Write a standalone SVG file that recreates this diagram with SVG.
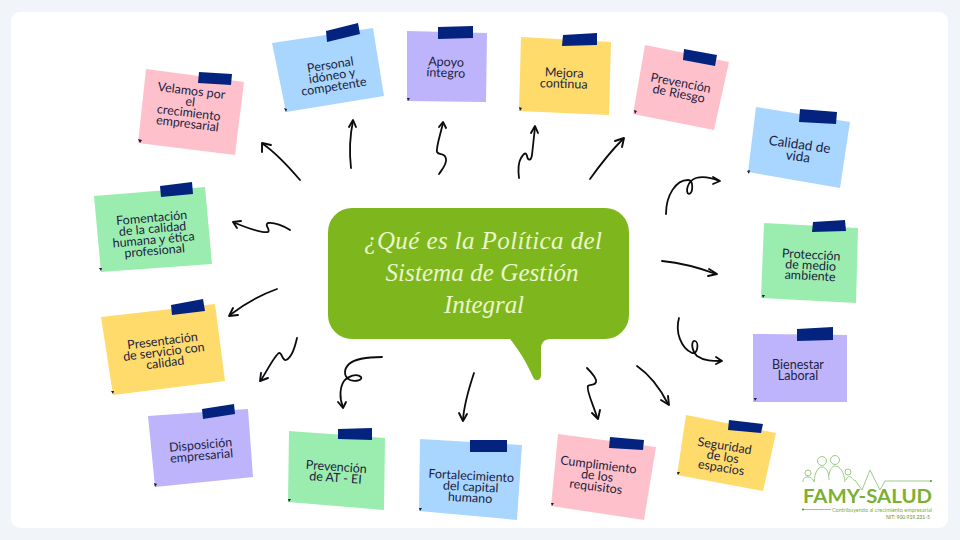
<svg xmlns="http://www.w3.org/2000/svg" width="960" height="540" viewBox="0 0 960 540">
<style>
.t{font-family:"Lato","Noto Sans",sans-serif;font-size:12.5px;fill:#1d2340;text-anchor:middle}
.tape{fill:#04237f}
.pink{fill:#fec1cc}.blue{fill:#a9d6fe}.purple{fill:#bdb4fb}.yellow{fill:#fedb6b}.green{fill:#9bedaf}
.c{fill:#15193a}
.a{fill:none;stroke:#0c0c10;stroke-width:1.8;stroke-linecap:round;stroke-linejoin:round}
.h{fill:none;stroke:#0c0c10;stroke-width:1.9;stroke-linecap:round;stroke-linejoin:round}
.title{font-family:"Liberation Serif",serif;font-style:italic;font-size:25px;fill:#eaf6cd;text-anchor:middle}
.lg{fill:none;stroke:#9ccb86;stroke-width:1}
</style>
<rect width="960" height="540" fill="#f1f4f8"/>
<rect x="11" y="12" width="937" height="516" rx="9" fill="#fff"/>

<g id="connectors">
<path class="a" d="M300 180C288 166 276 153 263 144"/><path class="h" d="M262 152L262 143L271 145"/>
<path class="a" d="M351 168C349 150 350 135 353 121"/><path class="h" d="M349 127L353 120L356 127"/>
<path class="a" d="M439 174C443 168 447 164 446 159C445 152 439 156 437 152C436 147 440 136 443 123"/><path class="h" d="M439 127L443 122L446 128"/>
<path class="a" d="M519 178C518 170 518 163 521 158C524 153 526 152 527 156C528 161 531 161 532 155C533 146 534 136 535 128"/><path class="h" d="M531 133L535 126L538 133"/>
<path class="a" d="M590 179C600 165 610 152 623 139"/><path class="h" d="M615 141L624 138L622 147"/>
<path class="a" d="M666 214C666 195 676 180 688 180C694 180 693 193 689 194C685 193 687 181 696 178C704 176 712 178 719 181"/><path class="h" d="M713 177L720 181L713 184"/>
<path class="a" d="M662 261C682 263 700 268 716 274"/><path class="h" d="M709 269L717 274L708 276"/>
<path class="a" d="M679 318C675 332 681 348 692 353C698 355 699 342 695 341C691 340 691 350 697 356C704 361 713 361 721 361"/><path class="h" d="M716 357L722 361L716 364"/>
<path class="a" d="M637 366C650 375 660 388 668 404"/><path class="h" d="M661 400L669 405L668 396"/>
<path class="a" d="M587 368C592 373 597 379 596 382C595 386 590 384 588 386C586 390 593 404 597 417"/><path class="h" d="M592 413L598 419L600 410"/>
<path class="a" d="M474 373C469 388 464 404 463 420"/><path class="h" d="M459 413L463 421L467 414"/>
<path class="a" d="M382 357C368 357 356 358 349 364C344 369 343 376 350 380C356 382 363 380 361 377C357 373 348 376 344 381C340 387 339 398 343 407"/><path class="h" d="M338 402L343 408L346 402"/>
<path class="a" d="M297 338C295 347 291 358 286 360C282 361 282 352 279 353C275 355 268 369 261 380"/><path class="h" d="M261 373L260 381L268 378"/>
<path class="a" d="M277 289C260 295 243 305 230 315"/><path class="h" d="M233 308L229 316L238 315"/>
<path class="a" d="M290 230C284 226 274 222 268 223C264 225 271 230 268 232C264 233 250 229 235 223"/><path class="h" d="M241 221L233 222L237 228"/>
</g>

<g id="bubble">
<path fill="#7eb61d" d="M352 208H605A24 24 0 0 1 629 232V315A24 24 0 0 1 605 339H551C544 339 541 343 541 349V375C541 381 535 382 533 377C526 361 518 349 510 339H352A24 24 0 0 1 328 315V232A24 24 0 0 1 352 208Z"/>
<text class="title" x="483" y="249" textLength="238" lengthAdjust="spacing">¿Qué es la Política del</text>
<text class="title" x="482" y="281" textLength="193" lengthAdjust="spacing">Sistema de Gestión</text>
<text class="title" x="484" y="313" textLength="80" lengthAdjust="spacing">Integral</text>
</g>

<g id="n1"><polygon class="pink" points="146,69 244,82 235,155 138,143"/><polygon class="tape" points="199,72 232,74 231,85 198,83"/><polygon class="c" points="138,139 142,140 140,143"/>
<text class="t" transform="translate(191,95) rotate(7)"><tspan x="0" y="0">Velamos por</tspan><tspan x="0" y="11">el</tspan><tspan x="0" y="22">crecimiento</tspan><tspan x="0" y="33">empresarial</tspan></text></g>
<g id="n2"><polygon class="blue" points="272,43 373,28 384,96 286,112"/><polygon class="tape" points="326,31 358,23 360,34 327,42"/><polygon class="c" points="284,108 287,109 286,112"/>
<text class="t" transform="translate(331,69) rotate(-9)"><tspan x="0" y="0">Personal</tspan><tspan x="0" y="11">idóneo y</tspan><tspan x="0" y="22">competente</tspan></text></g>
<g id="n3"><polygon class="purple" points="407,31 487,33 486,102 407,101"/><polygon class="tape" points="438,27 473,26 473,38 438,39"/><polygon class="c" points="407,98 410,98 408,101"/>
<text class="t" transform="translate(446,66) rotate(2)"><tspan x="0" y="0">Apoyo</tspan><tspan x="0" y="11">íntegro</tspan></text></g>
<g id="n4"><polygon class="yellow" points="521,37 611,42 609,115 519,111"/><polygon class="tape" points="563,35 597,33 597,45 562,46"/><polygon class="c" points="519,107 522,108 520,111"/>
<text class="t" transform="translate(564,77) rotate(2)"><tspan x="0" y="0">Mejora</tspan><tspan x="0" y="11">continua</tspan></text></g>
<g id="n5"><polygon class="pink" points="645,45 729,62 714,130 633,114"/><polygon class="tape" points="684,49 717,55 715,66 683,60"/><polygon class="c" points="634,110 637,111 635,114"/>
<text class="t" transform="translate(680,87) rotate(11)"><tspan x="0" y="0">Prevención</tspan><tspan x="0" y="11">de Riesgo</tspan></text></g>
<g id="n6"><polygon class="blue" points="756,107 850,122 840,188 748,172"/><polygon class="tape" points="800,109 837,112 836,124 799,122"/><polygon class="c" points="747,171 750,170 749,174"/>
<text class="t" style="font-size:13.5px" transform="translate(799,149) rotate(8)"><tspan x="0" y="0">Calidad de</tspan><tspan x="0" y="12">vida</tspan></text></g>
<g id="n7"><polygon class="green" points="764,223 858,228 856,303 761,298"/><polygon class="tape" points="813,222 845,220 846,231 812,232"/><polygon class="c" points="762,295 765,295 763,298"/>
<text class="t" transform="translate(811,259) rotate(3)"><tspan x="0" y="0">Protección</tspan><tspan x="0" y="10.5">de medio</tspan><tspan x="0" y="21">ambiente</tspan></text></g>
<g id="n8"><polygon class="purple" points="753,334 847,335 847,402 753,402"/><polygon class="tape" points="797,329 833,327 833,340 797,341"/><polygon class="c" points="754,398 757,398 755,401"/>
<text class="t" transform="translate(798,369)"><tspan x="0" y="0">Bienestar</tspan><tspan x="0" y="11">Laboral</tspan></text></g>
<g id="n9"><polygon class="yellow" points="686,415 776,433 763,491 677,475"/><polygon class="tape" points="729,420 763,424 761,433 728,430"/><polygon class="c" points="677,472 680,472 678,475"/>
<text class="t" transform="translate(724,450) rotate(9)"><tspan x="0" y="0">Seguridad</tspan><tspan x="0" y="11">de los</tspan><tspan x="0" y="22">espacios</tspan></text></g>
<g id="n10"><polygon class="pink" points="558,434 656,447 644,520 551,506"/><polygon class="tape" points="610,437 644,440 643,450 609,448"/><polygon class="c" points="551,503 554,503 552,506"/>
<text class="t" transform="translate(598,469) rotate(7)"><tspan x="0" y="0">Cumplimiento</tspan><tspan x="0" y="11">de los</tspan><tspan x="0" y="22">requisitos</tspan></text></g>
<g id="n11"><polygon class="blue" points="420,439 522,445 517,520 419,511"/><polygon class="tape" points="470,440 507,440 507,452 470,452"/><polygon class="c" points="419,508 422,508 420,511"/>
<text class="t" transform="translate(471,480) rotate(3)"><tspan x="0" y="0">Fortalecimiento</tspan><tspan x="0" y="11">del capital</tspan><tspan x="0" y="22">humano</tspan></text></g>
<g id="n12"><polygon class="green" points="289,431 385,438 384,510 288,502"/><polygon class="tape" points="338,429 372,428 372,440 338,439"/><polygon class="c" points="288,499 291,499 289,502"/>
<text class="t" transform="translate(336,471) rotate(4)"><tspan x="0" y="0">Prevención</tspan><tspan x="0" y="11">de AT - EI</tspan></text></g>
<g id="n13"><polygon class="purple" points="148,416 248,409 253,477 155,487"/><polygon class="tape" points="202,409 234,404 235,414 203,419"/><polygon class="c" points="154,483 157,484 155,487"/>
<text class="t" transform="translate(201,449) rotate(-5)"><tspan x="0" y="0">Disposición</tspan><tspan x="0" y="11">empresarial</tspan></text></g>
<g id="n14"><polygon class="yellow" points="101,317 215,304 225,381 113,395"/><polygon class="tape" points="171,305 203,299 205,311 172,315"/><polygon class="c" points="111,391 114,391 113,394"/>
<text class="t" transform="translate(163,345) rotate(-7)"><tspan x="0" y="0">Presentación</tspan><tspan x="0" y="11">de servicio con</tspan><tspan x="0" y="22">calidad</tspan></text></g>
<g id="n15"><polygon class="green" points="94,196 205,187 212,264 101,272"/><polygon class="tape" points="160,186 192,182 193,194 161,197"/><polygon class="c" points="99,268 102,268 101,271"/>
<text class="t" transform="translate(152,222) rotate(-5)"><tspan x="0" y="0">Fomentación</tspan><tspan x="0" y="11">de la calidad</tspan><tspan x="0" y="22">humana y ética</tspan><tspan x="0" y="33">profesional</tspan></text></g>

<g id="logo">
<circle class="lg" cx="822" cy="461" r="4.5"/><circle class="lg" cx="835" cy="460" r="4.5"/><circle class="lg" cx="808" cy="473" r="3"/><circle class="lg" cx="848" cy="472" r="3"/>
<path class="lg" d="M814 482C815 472 818 467 822 467C826 467 829 472 829 480M829 475C830 469 832 466 835 466C840 466 844 472 845 482M803 482C803 478 805 477 808 477C811 477 813 479 814 482M846 480C847 477 849 476 851 477C853 479 854 481 855 480L862 490L870 470L880 490L885 481H931"/>
<circle cx="931" cy="481" r="1" fill="#5f8a3a"/>
<text x="867.5" y="503" font-family="Lato,'Noto Sans',sans-serif" font-weight="700" font-size="18" fill="#7cb030" text-anchor="middle" textLength="129" lengthAdjust="spacingAndGlyphs">FAMY-SALUD</text>
<path class="lg" d="M803 509.500H831"/><circle cx="803" cy="509.500" r="1" fill="#5f8a3a"/>
<text x="882" y="512" font-family="Lato,'Noto Sans',sans-serif" font-size="6" fill="#7cb030" text-anchor="middle" textLength="100" lengthAdjust="spacingAndGlyphs">Contribuyendo al crecimiento empresarial</text>
<text x="908" y="519" font-family="Lato,'Noto Sans',sans-serif" font-size="5.5" fill="#5f8a3a" text-anchor="middle" textLength="44" lengthAdjust="spacingAndGlyphs">NIT: 900.919.231-5</text>
</g>
</svg>
